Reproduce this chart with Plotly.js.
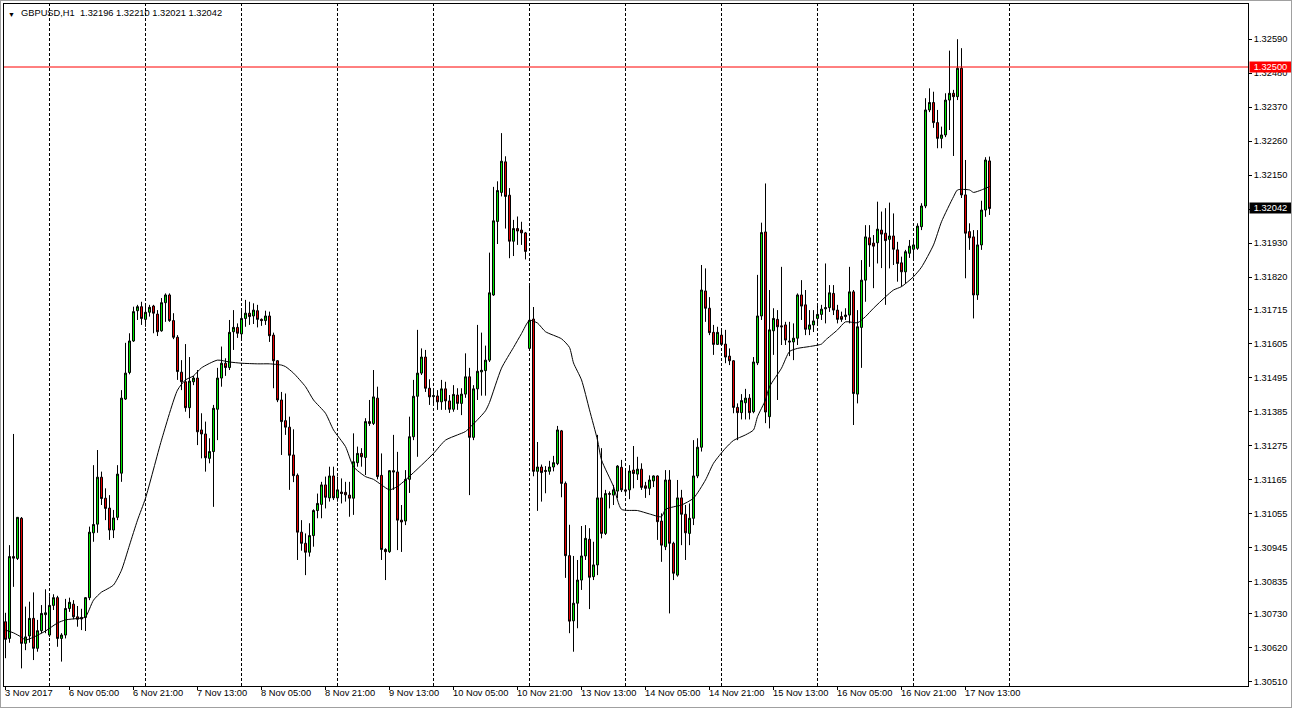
<!DOCTYPE html>
<html><head><meta charset="utf-8">
<script src="https://cdn.plot.ly/plotly-3.0.1.min.js"></script>
<style>
html,body{margin:0;padding:0;background:#fff;overflow:hidden;}
#wrap{position:relative;width:1292px;height:708px;}
#chart{width:1292px;height:708px;}
#frame{position:absolute;left:0;top:0;width:1290px;height:706px;border:1px solid #a0a0a0;pointer-events:none;}
</style></head><body>
<div id="wrap"><div id="chart"></div><div id="frame"></div></div>
<script>
const symbol = 'GBPUSD';
const timeframe = 'H1';

const open = [1.30704,1.30650,1.30915,1.30909,1.31039,1.30634,1.30658,1.30715,1.30618,1.30675,1.30727,1.30661,1.30757,1.30782,1.30650,1.30661,1.30747,1.30761,1.30720,1.30718,
1.30718,1.30782,1.30992,1.31020,1.31172,1.31104,1.31072,1.31001,1.31042,1.31185,1.31425,1.31511,1.31613,1.31711,1.31724,1.31683,1.31706,1.31726,1.31700,1.31646,
1.31737,1.31762,1.31679,1.31625,1.31512,1.31481,1.31397,1.31481,1.31493,1.31325,1.31312,1.31233,1.31255,1.31392,1.31493,1.31541,1.31527,1.31643,1.31657,1.31636,
1.31686,1.31703,1.31694,1.31711,1.31683,1.31679,1.31694,1.31632,1.31549,1.31422,1.31355,1.31334,1.31244,1.31178,1.30994,1.30958,1.30929,1.30983,1.31064,1.31084,
1.31147,1.31105,1.31176,1.31105,1.31124,1.31123,1.31114,1.31104,1.31219,1.31249,1.31236,1.31352,1.31346,1.31428,1.31178,1.30938,1.30931,1.31193,1.31189,1.31033,
1.31030,1.31165,1.31303,1.31434,1.31509,1.31561,1.31460,1.31433,1.31435,1.31416,1.31458,1.31419,1.31392,1.31438,1.31411,1.31441,1.31497,1.31301,1.31458,1.31513,
1.31517,1.31551,1.31762,1.32000,1.32094,1.32193,1.32085,1.31936,1.31977,1.31972,1.31963,1.31589,1.31684,1.31191,1.31205,1.31194,1.31191,1.31205,1.31216,1.31322,
1.31152,1.30918,1.30707,1.30764,1.30839,1.30917,1.30971,1.30850,1.30888,1.31105,1.30990,1.31119,1.31114,1.31127,1.31204,1.31131,1.31131,1.31195,1.31182,1.31198,
1.31144,1.31136,1.31160,1.31176,1.31030,1.30947,1.31163,1.30958,1.30855,1.31105,1.31052,1.30990,1.31039,1.31176,1.31269,1.31775,1.31719,1.31641,1.31602,1.31632,
1.31603,1.31564,1.31549,1.31398,1.31381,1.31413,1.31428,1.31384,1.31542,1.31694,1.31966,1.31368,1.31646,1.31683,1.31662,1.31665,1.31613,1.31610,1.31622,1.31762,
1.31730,1.31651,1.31665,1.31686,1.31699,1.31717,1.31721,1.31767,1.31713,1.31692,1.31692,1.31697,1.31772,1.31441,1.31657,1.31810,1.31947,1.31930,1.31931,1.31972,
1.31962,1.31942,1.31953,1.31908,1.31866,1.31837,1.31897,1.31910,1.31913,1.31983,1.32050,1.32361,1.32385,1.32320,1.32269,1.32280,1.32393,1.32415,1.32404,1.32496,
1.32086,1.31967,1.31950,1.31762,1.31924,1.32037,1.32196];

const high = [1.30733,1.30952,1.31312,1.31043,1.31043,1.30753,1.30769,1.30799,1.30710,1.30758,1.30809,1.30787,1.30793,1.30788,1.30667,1.30778,1.30782,1.30774,1.30755,1.30746,
1.30784,1.31012,1.31211,1.31260,1.31190,1.31136,1.31114,1.31066,1.31211,1.31454,1.31607,1.31638,1.31724,1.31730,1.31740,1.31730,1.31730,1.31730,1.31713,1.31752,
1.31767,1.31767,1.31703,1.31632,1.31551,1.31603,1.31561,1.31500,1.31519,1.31379,1.31352,1.31298,1.31406,1.31526,1.31595,1.31557,1.31681,1.31713,1.31670,1.31719,
1.31746,1.31740,1.31735,1.31730,1.31686,1.31711,1.31708,1.31640,1.31551,1.31448,1.31443,1.31368,1.31327,1.31184,1.31033,1.30990,1.31023,1.31068,1.31119,1.31157,
1.31174,1.31206,1.31206,1.31174,1.31168,1.31157,1.31157,1.31314,1.31271,1.31266,1.31363,1.31422,1.31519,1.31465,1.31249,1.30942,1.31195,1.31309,1.31254,1.31082,
1.31195,1.31368,1.31487,1.31649,1.31589,1.31584,1.31489,1.31454,1.31454,1.31487,1.31481,1.31438,1.31470,1.31460,1.31460,1.31573,1.31526,1.31470,1.31665,1.31640,
1.31598,1.31899,1.32112,1.32130,1.32286,1.32211,1.32108,1.32005,1.32016,1.31999,1.31966,1.31791,1.31723,1.31286,1.31213,1.31208,1.31225,1.31241,1.31338,1.31325,
1.31158,1.31018,1.30917,1.30904,1.31014,1.31017,1.31007,1.30963,1.31309,1.31266,1.31131,1.31126,1.31147,1.31211,1.31228,1.31195,1.31211,1.31273,1.31238,1.31217,
1.31157,1.31178,1.31178,1.31178,1.31055,1.31195,1.31195,1.30963,1.31163,1.31131,1.31082,1.31087,1.31292,1.31298,1.31859,1.31848,1.31755,1.31665,1.31659,1.31654,
1.31649,1.31589,1.31551,1.31411,1.31441,1.31458,1.31441,1.31561,1.31827,1.31996,1.32123,1.31778,1.31719,1.31713,1.31853,1.31675,1.31675,1.31670,1.31767,1.31810,
1.31778,1.31713,1.31713,1.31736,1.31730,1.31864,1.31794,1.31794,1.31730,1.31708,1.31719,1.31853,1.31778,1.31713,1.31875,1.31988,1.31988,1.31956,1.32064,1.32032,
1.32043,1.32061,1.32026,1.31934,1.31886,1.31908,1.31940,1.31946,1.31994,1.32059,1.32399,1.32431,1.32420,1.32361,1.32307,1.32415,1.32553,1.32426,1.32590,1.32561,
1.32199,1.31994,1.31972,1.31972,1.32067,1.32208,1.32210];

const low = [1.30586,1.30636,1.30817,1.30904,1.30553,1.30612,1.30636,1.30580,1.30607,1.30667,1.30667,1.30655,1.30742,1.30623,1.30575,1.30650,1.30736,1.30712,1.30688,1.30677,
1.30674,1.30774,1.30963,1.30992,1.31082,1.31033,1.30969,1.30975,1.31033,1.31157,1.31422,1.31505,1.31610,1.31681,1.31665,1.31659,1.31692,1.31638,1.31629,1.31643,
1.31675,1.31675,1.31619,1.31487,1.31454,1.31384,1.31363,1.31470,1.31276,1.31233,1.31190,1.31217,1.31076,1.31292,1.31465,1.31500,1.31519,1.31584,1.31623,1.31616,
1.31659,1.31665,1.31668,1.31657,1.31662,1.31665,1.31610,1.31460,1.31415,1.31244,1.31309,1.31131,1.31156,1.30904,1.30934,1.30855,1.30915,1.30947,1.31039,1.31039,
1.31071,1.31093,1.31098,1.31093,1.31087,1.31093,1.31044,1.31050,1.31206,1.31206,1.31179,1.31338,1.31341,1.31165,1.30904,1.30839,1.30927,1.31131,1.30936,1.30930,
1.31017,1.31121,1.31292,1.31238,1.31503,1.31448,1.31406,1.31406,1.31390,1.31390,1.31390,1.31380,1.31384,1.31390,1.31373,1.31429,1.31114,1.31292,1.31422,1.31436,
1.31436,1.31545,1.31759,1.31927,1.32081,1.31977,1.31881,1.31888,1.31924,1.31924,1.31877,1.31584,1.31175,1.31063,1.31093,1.31120,1.31180,1.31191,1.31211,1.31107,
1.30846,1.30667,1.30607,1.30683,1.30807,1.30904,1.30745,1.30839,1.30855,1.30974,1.30985,1.31071,1.31082,1.31104,1.31124,1.31114,1.31101,1.31136,1.31163,1.31131,
1.31105,1.31114,1.31140,1.30969,1.30898,1.30936,1.30731,1.30839,1.30850,1.30952,1.30904,1.30952,1.31017,1.31169,1.31255,1.31675,1.31632,1.31568,1.31600,1.31597,
1.31541,1.31535,1.31379,1.31292,1.31359,1.31359,1.31359,1.31379,1.31535,1.31681,1.31347,1.31330,1.31568,1.31422,1.31600,1.31600,1.31564,1.31551,1.31600,1.31681,
1.31632,1.31632,1.31642,1.31665,1.31681,1.31670,1.31707,1.31697,1.31670,1.31675,1.31681,1.31670,1.31341,1.31411,1.31526,1.31740,1.31853,1.31784,1.31864,1.31849,
1.31730,1.31848,1.31859,1.31805,1.31789,1.31800,1.31882,1.31875,1.31908,1.31972,1.32043,1.32354,1.32303,1.32237,1.32237,1.32273,1.32296,1.32212,1.32393,1.32076,
1.31816,1.31908,1.31686,1.31746,1.31908,1.32015,1.32021];

const close = [1.30647,1.30915,1.30910,1.31042,1.30634,1.30655,1.30715,1.30618,1.30675,1.30731,1.30733,1.30757,1.30782,1.30650,1.30661,1.30747,1.30767,1.30720,1.30712,1.30713,
1.30782,1.30994,1.31019,1.31172,1.31103,1.31071,1.31001,1.31040,1.31182,1.31428,1.31509,1.31613,1.31708,1.31724,1.31686,1.31706,1.31722,1.31703,1.31643,1.31737,
1.31762,1.31679,1.31625,1.31514,1.31481,1.31397,1.31483,1.31493,1.31319,1.31312,1.31235,1.31255,1.31395,1.31493,1.31541,1.31527,1.31641,1.31657,1.31638,1.31686,
1.31703,1.31692,1.31713,1.31683,1.31679,1.31694,1.31630,1.31549,1.31422,1.31352,1.31334,1.31243,1.31177,1.30994,1.30958,1.30929,1.30983,1.31064,1.31087,1.31147,
1.31107,1.31176,1.31105,1.31131,1.31119,1.31115,1.31104,1.31222,1.31249,1.31238,1.31352,1.31346,1.31432,1.31174,1.30938,1.30931,1.31193,1.31189,1.31033,1.31027,
1.31165,1.31303,1.31434,1.31509,1.31561,1.31460,1.31432,1.31436,1.31416,1.31458,1.31419,1.31392,1.31440,1.31411,1.31441,1.31497,1.31301,1.31458,1.31515,1.31518,
1.31551,1.31769,1.32002,1.32100,1.32195,1.32081,1.31936,1.31977,1.31969,1.31963,1.31903,1.31680,1.31191,1.31205,1.31187,1.31191,1.31205,1.31219,1.31325,1.31152,
1.30918,1.30706,1.30764,1.30839,1.30917,1.30974,1.30848,1.30888,1.31105,1.30990,1.31119,1.31117,1.31131,1.31208,1.31131,1.31127,1.31192,1.31184,1.31198,1.31139,
1.31136,1.31163,1.31176,1.31028,1.30952,1.31163,1.30958,1.30861,1.31105,1.31052,1.30992,1.31039,1.31176,1.31269,1.31778,1.31719,1.31640,1.31602,1.31641,1.31602,
1.31561,1.31549,1.31398,1.31381,1.31420,1.31428,1.31381,1.31545,1.31694,1.31964,1.31383,1.31649,1.31686,1.31659,1.31659,1.31616,1.31610,1.31622,1.31762,1.31726,
1.31651,1.31665,1.31678,1.31699,1.31716,1.31721,1.31769,1.31713,1.31683,1.31683,1.31697,1.31772,1.31443,1.31659,1.31810,1.31950,1.31924,1.31920,1.31975,1.31959,
1.31938,1.31953,1.31910,1.31864,1.31837,1.31902,1.31920,1.31924,1.31985,1.32050,1.32361,1.32385,1.32320,1.32269,1.32280,1.32393,1.32415,1.32404,1.32496,1.32086,
1.31962,1.31947,1.31762,1.31924,1.32037,1.32199,1.32042];

// moving average (bar index, value)
const maBar = [0,2,4,5,7,10,13,15,19,20,22,24,25,27,29,31,33,35,39,43,45,47,49,53,56,59,63,66,69,70,72,75,77,80,82,85,87,90,92,94,96,98,100,104,107,110,113,115,118,120,
121,124,127,129,131,133,135,139,141,142,144,146,148,149,152,154,158,161,164,165,167,169,172,175,177,180,182,185,187,188,190,191,194,196,198,201,204,205,208,210,
213,215,217,220,222,224,227,229,232,234,237,238,241,242,244,246];
const maVal = [1.30677,1.30668,1.30654,1.30645,1.30654,1.30674,1.30700,1.30710,1.30716,1.30719,1.30774,1.30800,1.30807,1.30823,1.30871,1.30952,1.31033,1.31104,1.31292,1.31454,
1.31487,1.31500,1.31526,1.31551,1.31545,1.31541,1.31539,1.31539,1.31535,1.31530,1.31509,1.31465,1.31422,1.31379,1.31325,1.31271,1.31206,1.31174,1.31165,1.31147,
1.31131,1.31142,1.31163,1.31211,1.31249,1.31292,1.31309,1.31320,1.31358,1.31387,1.31414,1.31525,1.31592,1.31637,1.31680,1.31671,1.31643,1.31620,1.31592,1.31542,
1.31487,1.31390,1.31292,1.31228,1.31142,1.31068,1.31064,1.31053,1.31044,1.31068,1.31076,1.31082,1.31104,1.31163,1.31217,1.31266,1.31291,1.31309,1.31325,1.31368,
1.31422,1.31465,1.31525,1.31579,1.31589,1.31595,1.31603,1.31616,1.31649,1.31675,1.31672,1.31692,1.31719,1.31756,1.31778,1.31789,1.31821,1.31852,1.31924,1.31999,
1.32080,1.32102,1.32102,1.32094,1.32102,1.32113];

const timeLabelBars = [0,16,32,48,64,80,96,112,128,144,160,176,192,208,224,240];
const timeLabels = ['3 Nov 2017','6 Nov 05:00','6 Nov 21:00','7 Nov 13:00','8 Nov 05:00','8 Nov 21:00','9 Nov 13:00','10 Nov 05:00','10 Nov 21:00','13 Nov 13:00','14 Nov 05:00','14 Nov 21:00','15 Nov 13:00','16 Nov 05:00','16 Nov 21:00','17 Nov 13:00'];
const gridBars = [11,35,59,83,107,131,155,179,203,227,251];
const priceTicks = [1.30510,1.30620,1.30730,1.30835,1.30945,1.31055,1.31165,1.31275,1.31385,1.31495,1.31605,1.31715,1.31820,1.31930,1.32040,1.32150,1.32260,1.32370,1.32480,1.32590];
const alertLevel = 1.32500;

const bars = open.map((_, i) => i);
const last = open.length - 1;
const FONT = {family: 'Liberation Sans, Arial, sans-serif', size: 9.3, color: '#000'};

const candle = {
  type: 'candlestick', x: bars, open: open, high: high, low: low, close: close,
  increasing: {line: {color: '#000', width: 1}, fillcolor: '#00e600'},
  decreasing: {line: {color: '#000', width: 1}, fillcolor: '#e60000'},
  whiskerwidth: 0, hoverinfo: 'skip', showlegend: false
};
const ma = {
  type: 'scatter', mode: 'lines', x: maBar, y: maVal,
  line: {color: '#000', width: 1, shape: 'spline', smoothing: 0.6},
  hoverinfo: 'skip', showlegend: false
};

const shapes = gridBars.map(b => ({
  type: 'line', xref: 'x', yref: 'paper', x0: b, x1: b, y0: 0, y1: 1,
  line: {color: '#000', width: 1, dash: '3px,2px'}, layer: 'below'
}));
shapes.push({type: 'line', xref: 'paper', yref: 'y', x0: 0, x1: 1, y0: alertLevel, y1: alertLevel,
  line: {color: '#ff0000', width: 1}, layer: 'above'});

const annotations = timeLabelBars.map((b, k) => ({
  xref: 'x', yref: 'paper', x: b, y: 0, text: timeLabels[k], showarrow: false,
  xanchor: 'left', yanchor: 'top', yshift: -1, xshift: -2, font: FONT, borderpad: 0
}));
annotations.push({xref: 'paper', yref: 'paper', x: 0, y: 1, xanchor: 'left', yanchor: 'top',
  xshift: 3, yshift: -6, text: '\u25BC', showarrow: false, font: {family: FONT.family, size: 7, color: '#000'}, borderpad: 0});
annotations.push({xref: 'paper', yref: 'paper', x: 0, y: 1, xanchor: 'left', yanchor: 'top',
  xshift: 16, yshift: -3, showarrow: false, font: FONT, borderpad: 0,
  text: symbol + ',' + timeframe + '\u00a0\u00a0' + [open[last], high[last], low[last], close[last]].map(v => v.toFixed(5)).join(' ')});
annotations.push({xref: 'paper', yref: 'y', x: 1, y: alertLevel, xanchor: 'left', yanchor: 'middle', xshift: 1,
  text: alertLevel.toFixed(5), showarrow: false, bgcolor: '#ff0000', font: {family: FONT.family, size: 9.3, color: '#fff'},
  width: 41, height: 10, borderpad: 0, align: 'center'});
annotations.push({xref: 'paper', yref: 'y', x: 1, y: close[last], xanchor: 'left', yanchor: 'middle', xshift: 1,
  text: close[last].toFixed(5), showarrow: false, bgcolor: '#000', font: {family: FONT.family, size: 9.3, color: '#fff'},
  width: 41, height: 10, borderpad: 0, align: 'center'});

const layout = {
  width: 1292, height: 708,
  margin: {l: 4, r: 44, t: 4, b: 22, pad: 0},
  paper_bgcolor: '#fff', plot_bgcolor: '#fff',
  showlegend: false, hovermode: false, dragmode: false,
  boxgap: 0.5, boxgroupgap: 0,
  xaxis: {
    type: 'linear', range: [-0.375, 310.625], fixedrange: true,
    rangeslider: {visible: false},
    showgrid: false, zeroline: false,
    showline: true, mirror: true, linecolor: '#000', linewidth: 1,
    tickmode: 'array', tickvals: timeLabelBars, showticklabels: false,
    ticks: 'outside', ticklen: 3, tickcolor: '#000', tickwidth: 1
  },
  yaxis: {
    side: 'right', range: [1.30496, 1.32704], fixedrange: true,
    showgrid: false, zeroline: false,
    showline: true, mirror: true, linecolor: '#000', linewidth: 1,
    tickmode: 'array', tickvals: priceTicks, tickformat: '.5f',
    ticks: 'outside', ticklen: 3, tickcolor: '#000', tickwidth: 1,
    tickfont: FONT
  },
  shapes: shapes,
  annotations: annotations
};

Plotly.newPlot('chart', [candle, ma], layout, {displayModeBar: false, staticPlot: true});
</script>
</body></html>
